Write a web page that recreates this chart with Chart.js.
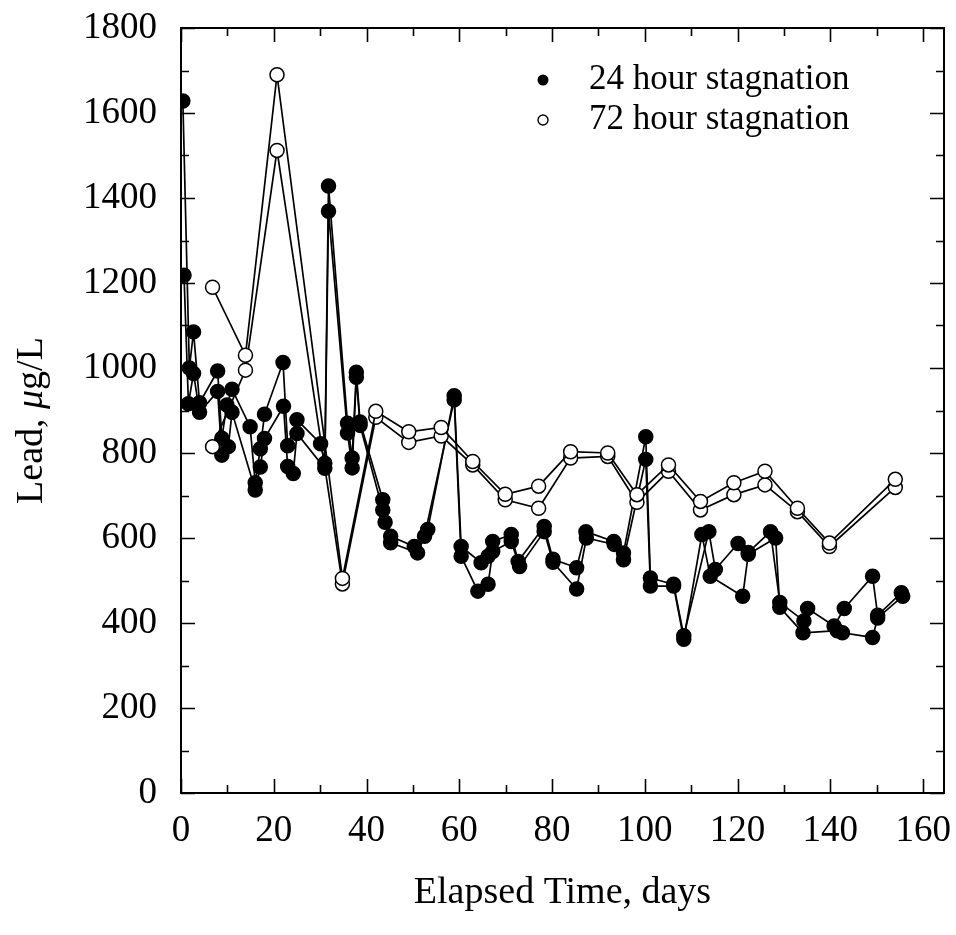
<!DOCTYPE html>
<html>
<head>
<meta charset="utf-8">
<title>Lead vs elapsed time</title>
<script src="https://cdn.jsdelivr.net/npm/chart.js@4.4.1/dist/chart.umd.min.js"></script>
<style>
  html, body { margin: 0; padding: 0; background: #fff; }
  canvas { display: block; }
</style>
</head>
<body>
<canvas id="leadChart" width="956" height="935"></canvas>
<script>
// 24 hour stagnation, two sampling lines
const days24a = [0.4, 1.8, 2.7, 4.0, 7.9, 8.8, 9.9, 11.0, 14.9, 16.0, 17.1, 18.0, 22.0, 23.0, 25.0, 30.1, 31.0, 31.8, 35.9, 36.9, 37.8, 38.6, 43.5, 45.2, 50.3, 53.2, 58.9, 60.4, 64.7, 66.2, 67.2, 71.2, 72.7, 78.3, 80.2, 85.3, 87.3, 93.3, 95.4, 100.2, 101.2, 106.2, 108.4, 113.8, 115.2, 120.1, 122.3, 127.1, 129.1, 134.3, 135.1, 140.8, 143.0, 149.1, 150.2, 155.3];
const lead24a = [1628, 1000, 1085, 918, 993, 835, 913, 950, 862, 730, 810, 891, 1013, 817, 878, 822, 776, 1428, 870, 788, 990, 873, 690, 604, 580, 620, 935, 580, 542, 557, 592, 608, 545, 627, 550, 530, 615, 592, 565, 838, 506, 491, 370, 615, 526, 587, 566, 615, 448, 405, 434, 393, 434, 510, 418, 471];
const days24b = [0.65, 1.6, 2.7, 4.0, 7.9, 8.8, 10.2, 11.0, 16.0, 17.1, 18.0, 22.1, 23.0, 24.2, 25.0, 31.0, 31.8, 35.9, 36.9, 37.8, 38.6, 43.5, 44.0, 45.2, 51.0, 52.5, 58.9, 60.4, 64.0, 66.2, 67.2, 71.2, 73.0, 78.3, 80.2, 85.3, 87.4, 93.4, 95.4, 100.2, 101.2, 106.2, 108.4, 112.3, 114.1, 121.1, 122.3, 128.2, 129.1, 134.1, 141.5, 142.6, 149.1, 150.2, 155.6];
const lead24b = [1218, 916, 987, 896, 945, 795, 815, 896, 713, 767, 834, 910, 768, 752, 846, 764, 1369, 847, 765, 978, 865, 666, 637, 589, 565, 604, 925, 557, 475, 491, 568, 592, 533, 615, 543, 480, 600, 585, 549, 785, 487, 487, 362, 608, 510, 463, 562, 600, 437, 377, 382, 377, 366, 412, 463];

// 72 hour stagnation, two sampling lines on the same days
const days72 = [6.8, 13.9, 20.7, 34.8, 42.0, 49.1, 56.1, 62.9, 69.9, 77.1, 84.0, 92.0, 98.3, 105.1, 112.0, 119.2, 125.9, 132.9, 139.8, 154.0];
const lead72a = [1190, 1030, 1690, 505, 898, 850, 860, 780, 703, 722, 803, 800, 702, 772, 686, 730, 757, 670, 588, 738];
const lead72b = [815, 995, 1512, 492, 884, 825, 840, 772, 690, 670, 788, 792, 684, 757, 666, 702, 725, 662, 580, 719];

// axis ticks
const xTicks = [0, 20, 40, 60, 80, 100, 120, 140, 160];
const yTicks = [0, 200, 400, 600, 800, 1000, 1200, 1400, 1600, 1800];

const seriesNames = ['24 hour stagnation', '72 hour stagnation'];

const serif = "'Liberation Serif', 'Times New Roman', serif";

function toPoints(xs, ys) {
  return xs.map((x, i) => ({ x: x, y: ys[i] }));
}

function lineSet(label, points, filled, order) {
  return {
    label: label,
    data: points,
    showLine: true,
    borderColor: '#000',
    borderWidth: 1.7,
    pointRadius: 7,
    pointBorderWidth: 1.5,
    pointBorderColor: '#000',
    pointBackgroundColor: filled ? '#000' : '#fff',
    order: order
  };
}

// frame, inward ticks, axis titles and legend
const framePlugin = {
  id: 'frame',
  afterDraw(chart) {
    const c = chart.ctx;
    const a = chart.chartArea;
    const xs = chart.scales.x;
    const ys = chart.scales.y;
    c.save();
    c.strokeStyle = '#000';
    c.lineWidth = 2;
    c.strokeRect(a.left, a.top, a.right - a.left, a.bottom - a.top);

    // x ticks, every 10 days, on bottom and top
    c.lineWidth = 1.6;
    for (let v = 0; v <= 160; v += 10) {
      const px = Math.round(xs.getPixelForValue(v)) + 0.5;
      const len = v % 20 === 0 ? 14 : 8;
      c.beginPath();
      c.moveTo(px, a.bottom); c.lineTo(px, a.bottom - len);
      c.moveTo(px, a.top); c.lineTo(px, a.top + len);
      c.stroke();
    }
    // y ticks, every 100, on left and right
    for (let v = 0; v <= 1800; v += 100) {
      const py = Math.round(ys.getPixelForValue(v)) + 0.5;
      const len = v % 200 === 0 ? 14 : 8;
      c.beginPath();
      c.moveTo(a.left, py); c.lineTo(a.left + len, py);
      c.moveTo(a.right, py); c.lineTo(a.right - len, py);
      c.stroke();
    }

    // x title
    c.fillStyle = '#000';
    c.font = '38px ' + serif;
    c.textAlign = 'center';
    c.textBaseline = 'middle';
    c.fillText('Elapsed Time, days', (a.left + a.right) / 2, 893);

    // y title with italic mu
    c.save();
    c.translate(32, (a.top + a.bottom) / 2 + 10);
    c.rotate(-Math.PI / 2);
    const parts = [['Lead, ', ''], ['\u03bc', 'italic '], ['g/L', '']];
    let total = 0;
    parts.forEach(p => { c.font = p[1] + '38px ' + serif; total += c.measureText(p[0]).width; });
    let tx = -total / 2;
    c.textAlign = 'left';
    parts.forEach(p => {
      c.font = p[1] + '38px ' + serif;
      c.fillText(p[0], tx, 0);
      tx += c.measureText(p[0]).width;
    });
    c.restore();

    // legend
    c.font = '35px ' + serif;
    c.textAlign = 'left';
    c.textBaseline = 'middle';
    c.lineWidth = 1.4;
    c.beginPath();
    c.arc(543, 80, 5.5, 0, Math.PI * 2);
    c.fillStyle = '#000';
    c.fill();
    c.fillText(seriesNames[0], 589, 80);
    c.beginPath();
    c.arc(543, 120, 5, 0, Math.PI * 2);
    c.fillStyle = '#fff';
    c.fill();
    c.stroke();
    c.fillStyle = '#000';
    c.fillText(seriesNames[1], 589, 120);
    c.restore();
  }
};

const ctx = document.getElementById('leadChart').getContext('2d');
const leadChart = new Chart(ctx, {
  type: 'scatter',
  data: {
    datasets: [
      lineSet(seriesNames[0], toPoints(days24a, lead24a), true, 2),
      lineSet(seriesNames[0], toPoints(days24b, lead24b), true, 2),
      lineSet(seriesNames[1], toPoints(days72, lead72a), false, 1),
      lineSet(seriesNames[1], toPoints(days72, lead72b), false, 1)
    ]
  },
  options: {
    responsive: false,
    animation: false,
    layout: { padding: { top: 28, right: 12, left: 0, bottom: 0 } },
    plugins: {
      legend: { display: false },
      tooltip: { enabled: false }
    },
    scales: {
      x: {
        type: 'linear',
        min: 0,
        max: 164.5,
        grid: { display: false, drawTicks: false },
        border: { display: false },
        ticks: {
          maxRotation: 0,
          padding: 16,
          color: '#000',
          font: { family: serif, size: 37 },
          callback: v => String(v)
        },
        afterBuildTicks: s => { s.ticks = xTicks.map(v => ({ value: v })); },
        afterFit: s => {
          s.height = 142;
          s.paddingLeft = 0;
          s.paddingRight = 0;
        }
      },
      y: {
        type: 'linear',
        min: 0,
        max: 1800,
        grid: { display: false, drawTicks: false },
        border: { display: false },
        ticks: {
          padding: 24,
          color: '#000',
          font: { family: serif, size: 37 },
          callback: v => String(v)
        },
        afterBuildTicks: s => { s.ticks = yTicks.map(v => ({ value: v })); },
        afterFit: s => {
          s.width = 181;
          s.paddingTop = 0;
          s.paddingBottom = 0;
        }
      }
    }
  },
  plugins: [framePlugin]
});
</script>
</body>
</html>
